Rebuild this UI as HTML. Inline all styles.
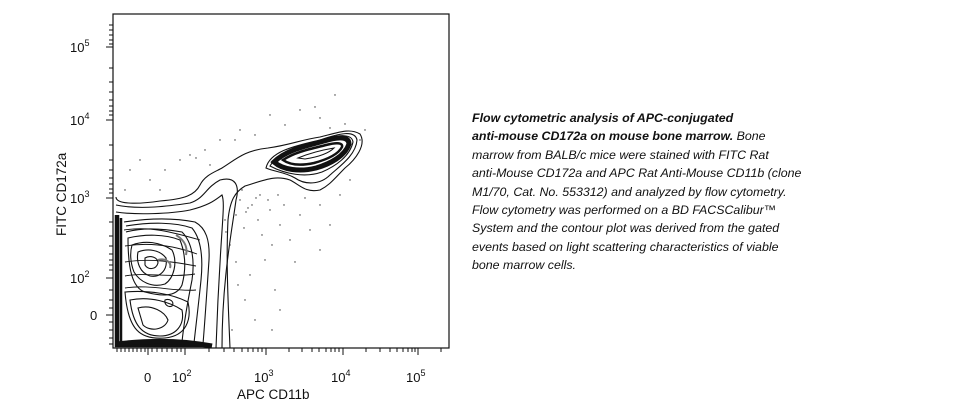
<!DOCTYPE html>
<html><head><style>
body{margin:0;width:966px;height:420px;background:#fff;overflow:hidden;font-family:"Liberation Sans",sans-serif}
.cap{position:absolute;left:472px;top:109px;font-size:12.4px;line-height:18.4px;font-style:italic;color:#111;width:440px}
</style></head><body>
<svg width="966" height="420" style="position:absolute;left:0;top:0" font-family="Liberation Sans, sans-serif" fill="none" stroke="#111">
<rect x="113" y="14" width="336" height="334" stroke-width="1.2"/>
<g stroke-width="1">
<line x1="106" y1="47" x2="113" y2="47"/><line x1="106" y1="120" x2="113" y2="120"/><line x1="106" y1="198" x2="113" y2="198"/><line x1="106" y1="278" x2="113" y2="278"/><line x1="106" y1="315" x2="113" y2="315"/>
<path d="M109 25H113M109 30H113M109 35H113M109 40H113M109 44H113M109 68H113M109 82H113M109 92H113M109 100H113M109 106H113M109 111H113M109 115H113M109 145H113M109 160H113M109 170H113M109 178H113M109 184H113M109 189H113M109 193H113M109 222H113M109 236H113M109 246H113M109 254H113M109 260H113M109 265H113M109 270H113M109 290H113M109 300H113M109 308H113M109 322H113M109 330H113M109 338H113M109 344H113"/>
<line x1="148" y1="348" x2="148" y2="355"/><line x1="185" y1="348" x2="185" y2="355"/><line x1="266" y1="348" x2="266" y2="355"/><line x1="343" y1="348" x2="343" y2="355"/><line x1="418" y1="348" x2="418" y2="355"/>
<path d="M117 348V352M121 348V352M125 348V352M129 348V352M133 348V352M137 348V352M141 348V352M145 348V352M152 348V352M157 348V352M162 348V352M167 348V352M172 348V352M177 348V352M181 348V352M209 348V352M224 348V352M234 348V352M242 348V352M248 348V352M253 348V352M258 348V352M262 348V352M289 348V352M302 348V352M312 348V352M319 348V352M326 348V352M331 348V352M335 348V352M339 348V352M366 348V352M380 348V352M390 348V352M397 348V352M403 348V352M408 348V352M412 348V352M415 348V352M441 348V352"/>
</g>
<g fill="#111" stroke="none" font-size="13">
<text x="70" y="52">10<tspan dy="-6" font-size="9">5</tspan></text>
<text x="70" y="125">10<tspan dy="-6" font-size="9">4</tspan></text>
<text x="70" y="203">10<tspan dy="-6" font-size="9">3</tspan></text>
<text x="70" y="283">10<tspan dy="-6" font-size="9">2</tspan></text>
<text x="90" y="320">0</text>
<text x="144" y="382">0</text>
<text x="172" y="382">10<tspan dy="-6" font-size="9">2</tspan></text>
<text x="254" y="382">10<tspan dy="-6" font-size="9">3</tspan></text>
<text x="331" y="382">10<tspan dy="-6" font-size="9">4</tspan></text>
<text x="406" y="382">10<tspan dy="-6" font-size="9">5</tspan></text>
<text x="237" y="399" font-size="13.5">APC CD11b</text>
<text transform="translate(66,236) rotate(-90)" font-size="13.5">FITC CD172a</text>
</g>
<g stroke-width="1.1">
<!-- outer contour -->
<path d="M116 197 C116 205 140 204 160 201 C185 199 195 195 200 185 C205 175 215 172 222 168 C235 160 245 150 268 148 C290 145 300 140 320 137 C340 132 350 128 360 134 C367 145 355 160 345 168 C335 178 330 185 320 190 C305 193 300 185 290 180 C275 175 265 180 245 186 C235 192 230 200 228 220 C226 260 228 300 230 348"/>
<path d="M116 205 C140 210 170 206 190 203 C205 198 205 188 220 180 C235 176 240 185 236 200 C232 230 222 280 222 348"/>
<path d="M116 212 C135 215 170 214 190 210 C210 205 215 200 222 195 C226 205 220 230 216 348"/>
<!-- right cluster -->
<path d="M266 168 C270 150 300 145 320 140 C340 133 355 130 357 140 C356 155 340 166 330 175 C320 185 305 185 295 178 C285 172 275 172 266 168 Z"/>
<path d="M270 166 C280 150 305 145 322 140 C340 134 352 134 353 142 C350 156 336 166 322 172 C305 178 285 174 270 166 Z"/>
<path d="M274 162 C286 150 306 146 324 141 C340 136 349 137 349 144 C345 156 330 164 316 168 C300 172 283 170 274 162 Z" stroke-width="5"/>
<path d="M283 160 C295 152 310 149 326 145 C338 142 343 143 342 147 C338 155 325 160 314 163 C300 166 290 165 283 160 Z" stroke-width="2.5"/>
<path d="M298 158 C310 153 322 150 334 148 C328 154 318 157 305 159 Z" stroke-width="1"/>
<!-- left block -->
<path d="M117 215 V345 H205" stroke-width="4.5"/>
<path d="M121 218 V342" stroke-width="2.5"/>
<path d="M117 344 C150 340 180 340 212 346" stroke-width="5"/>
<path d="M124 222 C150 218 175 218 195 222 C206 228 210 240 209 260 C207 290 205 320 203 344"/>
<path d="M126 226 C150 222 175 222 192 228 C202 240 203 260 201 280 C199 300 196 325 194 343"/>
<path d="M126 232 C140 228 160 228 182 232 C192 242 195 260 192 280 C188 300 184 322 182 342"/>
<path d="M128 238 C145 234 165 234 180 240 C186 255 186 270 182 285 C176 298 160 296 145 292 C132 288 128 268 128 238 Z"/>
<path d="M132 245 C145 240 160 242 172 250 C178 262 174 278 165 284 C152 288 140 282 134 272 C130 262 130 252 132 245 Z"/>
<path d="M138 252 C148 248 160 250 166 258 C168 270 160 278 150 276 C140 273 136 262 138 252 Z"/>
<path d="M145 258 C150 255 158 257 158 263 C156 270 148 270 145 265 Z"/>
<path d="M125 292 C150 290 172 294 188 302 C192 320 186 336 165 338 C140 340 128 330 125 292 Z"/>
<path d="M130 300 C150 296 170 302 182 310 C185 325 176 336 160 336 C142 336 133 325 130 300 Z"/>
<path d="M138 308 C152 304 165 312 168 320 C165 330 150 332 143 325 Z"/>
<path d="M165 300 C170 298 175 302 172 306 C168 308 164 304 165 300 Z"/>
<path d="M125 246 C150 242 175 246 197 254 M125 262 C150 258 175 262 196 266 M125 276 C145 272 170 278 195 274 M125 288 C150 284 175 292 196 290 M124 230 C150 226 172 232 200 240" stroke-width="0.9"/>
<path d="M158 260 C165 258 172 262 170 268 M176 235 C184 240 188 246 186 255" stroke="#777" stroke-width="2"/>
</g>
<g fill="#333" stroke="none">
<circle cx="240" cy="200" r=".7"/><circle cx="246" cy="212" r=".7"/><circle cx="252" cy="205" r=".7"/><circle cx="258" cy="220" r=".7"/><circle cx="244" cy="228" r=".7"/><circle cx="262" cy="235" r=".7"/><circle cx="270" cy="210" r=".7"/><circle cx="280" cy="225" r=".7"/><circle cx="290" cy="240" r=".7"/><circle cx="300" cy="215" r=".7"/><circle cx="310" cy="230" r=".7"/><circle cx="320" cy="250" r=".7"/><circle cx="330" cy="225" r=".7"/><circle cx="265" cy="260" r=".7"/><circle cx="275" cy="290" r=".7"/><circle cx="245" cy="300" r=".7"/><circle cx="255" cy="320" r=".7"/><circle cx="280" cy="310" r=".7"/><circle cx="230" cy="245" r=".7"/><circle cx="236" cy="262" r=".7"/><circle cx="250" cy="275" r=".7"/><circle cx="130" cy="170" r=".7"/><circle cx="140" cy="160" r=".7"/><circle cx="150" cy="180" r=".7"/><circle cx="165" cy="170" r=".7"/><circle cx="180" cy="160" r=".7"/><circle cx="190" cy="155" r=".7"/><circle cx="205" cy="150" r=".7"/><circle cx="220" cy="140" r=".7"/><circle cx="240" cy="130" r=".7"/><circle cx="270" cy="115" r=".7"/><circle cx="300" cy="110" r=".7"/><circle cx="360" cy="140" r=".7"/><circle cx="365" cy="130" r=".7"/><circle cx="350" cy="180" r=".7"/><circle cx="340" cy="195" r=".7"/><circle cx="320" cy="205" r=".7"/><circle cx="125" cy="190" r=".7"/><circle cx="160" cy="190" r=".7"/><circle cx="235" cy="140" r=".7"/><circle cx="255" cy="135" r=".7"/><circle cx="285" cy="125" r=".7"/><circle cx="335" cy="95" r=".7"/><circle cx="315" cy="107" r=".7"/><circle cx="225" cy="220" r=".7"/><circle cx="238" cy="285" r=".7"/><circle cx="272" cy="245" r=".7"/><circle cx="295" cy="262" r=".7"/><circle cx="242" cy="190" r=".7"/><circle cx="260" cy="195" r=".7"/><circle cx="305" cy="198" r=".7"/><circle cx="268" cy="200" r=".7"/><circle cx="284" cy="205" r=".7"/><circle cx="232" cy="330" r=".7"/><circle cx="272" cy="330" r=".7"/><circle cx="248" cy="208" r=".7"/><circle cx="256" cy="198" r=".7"/><circle cx="236" cy="215" r=".7"/><circle cx="278" cy="195" r=".7"/><circle cx="226" cy="232" r=".7"/><circle cx="210" cy="165" r=".7"/><circle cx="196" cy="158" r=".7"/><circle cx="320" cy="118" r=".7"/><circle cx="345" cy="124" r=".7"/><circle cx="330" cy="128" r=".7"/></g>
</svg>
<div class="cap"><b>Flow cytometric analysis of APC-conjugated<br>anti-mouse CD172a on mouse bone marrow.</b> Bone<br>marrow from BALB/c mice were stained with FITC Rat<br>anti-Mouse CD172a and APC Rat Anti-Mouse CD11b (clone<br>M1/70, Cat. No. 553312) and analyzed by flow cytometry.<br>Flow cytometry was performed on a BD FACSCalibur™<br>System and the contour plot was derived from the gated<br>events based on light scattering characteristics of viable<br>bone marrow cells.</div>
</body></html>
